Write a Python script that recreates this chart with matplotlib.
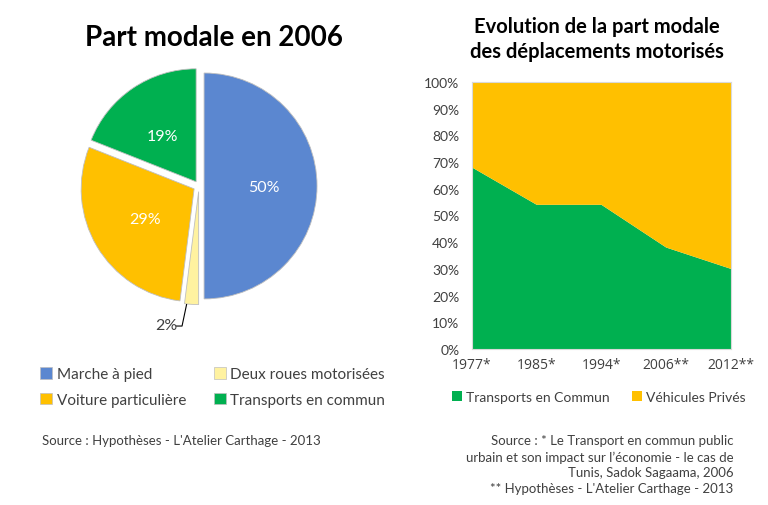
import numpy as np
import matplotlib.pyplot as plt

plt.rcParams['font.family'] = ['Lato', 'DejaVu Sans']

# --- données ---
pie_labels = ["Marche à pied", "Deux roues motorisées",
              "Voiture particulière", "Transports en commun"]
pie_values = [50, 2, 29, 19]
pie_colors = ["#5B87D0", "#FFF2A0", "#FFC000", "#00B050"]

years = ["1977*", "1985*", "1994*", "2006**", "2012**"]
tc_share = [68, 54, 54, 38, 30]          # transports en commun (%)
vp_share = [100 - v for v in tc_share]   # véhicules privés (%)
area_colors = ["#00B050", "#FFC000"]
area_labels = ["Transports en Commun", "Véhicules Privés"]

text_grey = "#404040"

fig = plt.figure(figsize=(7.68, 5.06), dpi=100)

# --- camembert ---
ax1 = fig.add_axes([0.0826, 0.3625, 0.353, 0.536])
wedges, texts = ax1.pie(
    pie_values,
    colors=pie_colors,
    startangle=90,
    counterclock=False,
    explode=[0.045, 0.05, 0.05, 0.045],
    wedgeprops=dict(edgecolor="#BFBFBF", linewidth=0.6),
)
ax1.set_xlim(-1.2, 1.2)
ax1.set_ylim(-1.2, 1.2)
ax1.set_aspect("equal")

# étiquettes de pourcentage
ax1.text(0.57, -0.01, "50%", color="white", fontsize=11.5, ha="center", va="center")
ax1.text(-0.48, -0.29, "29%", color="white", fontsize=11.5, ha="center", va="center")
ax1.text(-0.32, 0.44, "19%", color="white", fontsize=11.5, ha="center", va="center")
ax1.text(-0.29, -1.23, "2%", color=text_grey, fontsize=11.5, ha="center", va="center")
ax1.plot([-0.11, -0.15, -0.20], [-1.05, -1.24, -1.24],
         color="black", linewidth=0.8, clip_on=False)

fig.text(0.279, 0.925, "Part modale en 2006", fontsize=20, fontweight="bold",
         ha="center", va="center")

handles = [plt.Rectangle((0, 0), 1, 1, facecolor=c, edgecolor="#BFBFBF", linewidth=0.5)
           for c in pie_colors]
order = [0, 2, 1, 3]  # remplissage par colonne -> lignes comme la référence
fig.legend([handles[i] for i in order], [pie_labels[i] for i in order],
           ncol=2, loc="upper left",
           bbox_to_anchor=(0.034, 0.3), frameon=False, fontsize=11,
           handlelength=0.8, handleheight=0.8, handletextpad=0.3,
           columnspacing=1.8, labelspacing=0.75, labelcolor=text_grey)

fig.text(0.055, 0.128, "Source : Hypothèses - L'Atelier Carthage - 2013",
         fontsize=9.5, color=text_grey, ha="left", va="center")

# --- aires empilées ---
ax2 = fig.add_axes([0.6146, 0.3083, 0.3372, 0.5277])
x = np.arange(len(years))
ax2.stackplot(x, tc_share, vp_share, colors=area_colors, labels=area_labels)
ax2.set_xlim(0, len(years) - 1)
ax2.set_ylim(0, 100)
ax2.set_yticks(np.arange(0, 101, 10))
ax2.set_yticklabels([f"{v}%" for v in range(0, 101, 10)])
ax2.set_xticks(x)
ax2.set_xticklabels(years, family=["Open Sans", "DejaVu Sans"])
ax2.tick_params(axis="y", length=0, labelsize=10, labelcolor=text_grey, pad=9)
ax2.tick_params(axis="x", length=0, labelsize=10, labelcolor=text_grey, pad=6)
for s in ax2.spines.values():
    s.set_color("#D9D9D9")
    s.set_linewidth(0.8)

fig.text(0.777, 0.922, "Evolution de la part modale\ndes déplacements motorisés",
         fontsize=14.5, fontweight="bold", ha="center", va="center", linespacing=1.3)

h2 = [plt.Rectangle((0, 0), 1, 1, facecolor=c) for c in area_colors]
fig.legend(h2, area_labels, ncol=2, loc="center",
           bbox_to_anchor=(0.78, 0.213), frameon=False, fontsize=10,
           handlelength=0.7, handleheight=0.7, handletextpad=0.3,
           columnspacing=1.6, labelcolor=text_grey)

fig.text(0.955, 0.081,
         "Source : * Le Transport en commun public\n"
         "urbain et son impact sur l\u2019économie - le cas de\n"
         "Tunis, Sadok Sagaama, 2006\n"
         "** Hypothèses - L'Atelier Carthage - 2013",
         fontsize=9.5, color=text_grey, ha="right", va="center",
         multialignment="right", linespacing=1.35)

fig.savefig("out.png", dpi=100)
